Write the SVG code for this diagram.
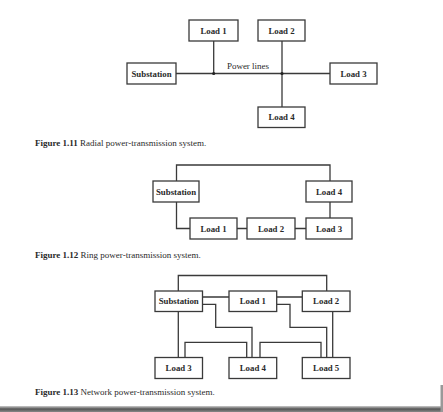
<svg xmlns="http://www.w3.org/2000/svg" width="443" height="412" viewBox="0 0 443 412">
<style>
.box{fill:#fff;stroke:#3a3a3a;stroke-width:1.3}
.ln{fill:none;stroke:#3a3a3a;stroke-width:1.3}
.lbl{font-family:"Liberation Serif",serif;font-size:8.8px;font-weight:bold;fill:#2a2a2a;text-anchor:middle}
.cap{font-family:"Liberation Serif",serif;font-size:9px;fill:#2a2a2a}
.cap .b{font-weight:bold}
.pl{font-family:"Liberation Serif",serif;font-size:9px;fill:#2a2a2a;text-anchor:middle}
</style>
<defs>
<linearGradient id="sh" x1="0" y1="0" x2="0" y2="1">
<stop offset="0" stop-color="#ccc"/>
<stop offset="0.5" stop-color="#555"/>
<stop offset="1" stop-color="#888"/>
</linearGradient>
</defs>
<rect width="443" height="412" fill="#fff"/>
<!-- Figure 1.11 -->
<g id="radial-connectors">
<path class="ln" d="M176 73.5H330M213.7 41V73.5M282 41V107"/>
<circle cx="213.7" cy="73.5" r="1.6" fill="#222"/>
<circle cx="282" cy="73.5" r="1.6" fill="#222"/>
<text class="pl" x="248" y="69">Power lines</text>
</g>
<g id="r-substation"><rect class="box" x="127" y="63" width="49" height="21"/><text class="lbl" x="151.5" y="76.5">Substation</text></g>
<g id="r-load1"><rect class="box" x="189" y="20" width="49" height="21"/><text class="lbl" x="213.5" y="33.5">Load 1</text></g>
<g id="r-load2"><rect class="box" x="258" y="20" width="47" height="21"/><text class="lbl" x="281.5" y="33.5">Load 2</text></g>
<g id="r-load3"><rect class="box" x="330" y="63" width="47" height="21"/><text class="lbl" x="353.5" y="76.5">Load 3</text></g>
<g id="r-load4"><rect class="box" x="258" y="107" width="47" height="20.5"/><text class="lbl" x="281.5" y="120.3">Load 4</text></g>
<text class="cap" x="35" y="146"><tspan class="b">Figure 1.11</tspan> Radial power-transmission system.</text>
<!-- Figure 1.12 -->
<g id="ring-connectors">
<path class="ln" d="M176.5 181V165H330V181M330 202V218M176.5 202V228.5H190M237 228.5H247M295 228.5H306"/>
</g>
<g id="g-substation"><rect class="box" x="153" y="181" width="46" height="21"/><text class="lbl" x="176" y="194.5">Substation</text></g>
<g id="g-load4"><rect class="box" x="306" y="181" width="46" height="21"/><text class="lbl" x="329" y="194.5">Load 4</text></g>
<g id="g-load1"><rect class="box" x="190" y="218" width="47" height="21"/><text class="lbl" x="213.5" y="231.5">Load 1</text></g>
<g id="g-load2"><rect class="box" x="247" y="218" width="48" height="21"/><text class="lbl" x="271" y="231.5">Load 2</text></g>
<g id="g-load3"><rect class="box" x="306" y="218" width="46" height="21"/><text class="lbl" x="329" y="231.5">Load 3</text></g>
<text class="cap" x="35" y="258"><tspan class="b">Figure 1.12</tspan> Ring power-transmission system.</text>
<!-- Figure 1.13 -->
<g id="network-connectors">
<path class="ln" d="M178.3 291V275.5H326.7V291M202.5 297H229M276.7 297H302.3M202.5 304.3H215.7V327.3H252V357.5M178.3 311.5V357.5M185 357.5V342.3H246.7V357.5M276.7 304.3H290V327.3H326.7V357.5M332.7 311.5V357.5M260 357.5V342.3H321V357.5"/>
</g>
<g id="n-substation"><rect class="box" x="155" y="291" width="47.5" height="20.5"/><text class="lbl" x="178.7" y="304.3">Substation</text></g>
<g id="n-load1"><rect class="box" x="229" y="291" width="47.7" height="20.5"/><text class="lbl" x="252.8" y="304.3">Load 1</text></g>
<g id="n-load2"><rect class="box" x="302.3" y="291" width="47.7" height="20.5"/><text class="lbl" x="326.2" y="304.3">Load 2</text></g>
<g id="n-load3"><rect class="box" x="155" y="357.5" width="47.5" height="21"/><text class="lbl" x="178.7" y="371">Load 3</text></g>
<g id="n-load4"><rect class="box" x="229" y="357.5" width="47.7" height="21"/><text class="lbl" x="252.8" y="371">Load 4</text></g>
<g id="n-load5"><rect class="box" x="302.3" y="357.5" width="47.7" height="21"/><text class="lbl" x="326.2" y="371">Load 5</text></g>
<text class="cap" x="35" y="395"><tspan class="b">Figure 1.13</tspan> Network power-transmission system.</text>
<!-- page shadow -->
<rect x="0" y="406" width="443" height="6" fill="url(#sh)"/>
<rect x="440.5" y="385" width="2.5" height="27" fill="#999"/>
</svg>
